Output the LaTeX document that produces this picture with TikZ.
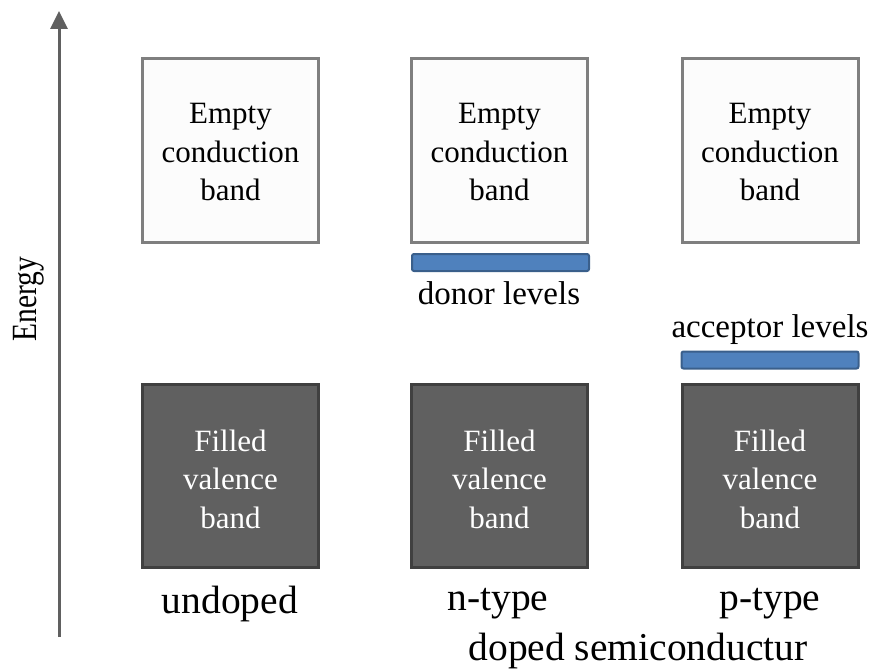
\documentclass[tikz,border=0pt]{standalone}
\usepackage{graphicx}
\usepackage{fontspec}
\setmainfont{Liberation Serif}
\usetikzlibrary{arrows.meta}
\definecolor{axisgray}{HTML}{606060}
\definecolor{cbborder}{HTML}{7F7F7F}
\definecolor{cbfill}{HTML}{FCFCFC}
\definecolor{vbfill}{HTML}{606060}
\definecolor{vbborder}{HTML}{404040}
\definecolor{lvlfill}{HTML}{4F81BD}
\definecolor{lvlborder}{HTML}{3A5F8B}
\tikzset{
  condband/.style={draw=cbborder, fill=cbfill, line width=3pt, minimum width=176pt, minimum height=184pt, inner sep=0pt},
  valband/.style={draw=vbborder, fill=vbfill, line width=3pt, minimum width=176pt, minimum height=183pt, inner sep=0pt},
  bandtext/.style={align=center, inner sep=0pt, font=\fontsize{31}{38.5}\selectfont},
  levelbar/.style={draw=lvlborder, fill=lvlfill, line width=2pt, rounded corners=2pt, minimum width=177pt, minimum height=17pt, inner sep=0pt},
  smalllbl/.style={font=\fontsize{33}{40}\selectfont, inner sep=0pt},
  biglbl/.style={font=\fontsize{39.5}{47}\selectfont, inner sep=0pt},
}
\begin{document}
\begin{tikzpicture}[x=1pt,y=-1pt]
\useasboundingbox (0,0) rectangle (870,671);
% axis
\coordinate (axbot) at (59,637);
\coordinate (axtop) at (59,11);
\draw[axisgray, line width=3pt, -{Triangle[width=17pt,length=18pt]}] (axbot) -- (axtop);
\node[font=\fontsize{29.5}{36}\selectfont, inner sep=0pt] (energy) at (28.5,299) {\scalebox{1.2}[1]{\rotatebox{90}{Energy}}};
% conduction bands
\node[condband] (cb1) at (230.5,150.5) {};
\node[condband] (cb2) at (499.5,150.5) {};
\node[condband] (cb3) at (770,150.5) {};
\node[bandtext] (cbt1) at ([yshift=-2pt]cb1.center) {Empty\\conduction\\band};
\node[bandtext] (cbt2) at ([yshift=-2pt]cb2.center) {Empty\\conduction\\band};
\node[bandtext] (cbt3) at ([yshift=-2pt]cb3.center) {Empty\\conduction\\band};
% valence bands
\node[valband] (vb1) at (230.5,476) {};
\node[valband] (vb2) at (499.5,476) {};
\node[valband] (vb3) at (770,476) {};
\node[bandtext, text=white] (vbt1) at ([yshift=-3pt]vb1.center) {Filled\\valence\\band};
\node[bandtext, text=white] (vbt2) at ([yshift=-3pt]vb2.center) {Filled\\valence\\band};
\node[bandtext, text=white] (vbt3) at ([yshift=-3pt]vb3.center) {Filled\\valence\\band};
% levels
\node[levelbar] (donor) at (500.5,262.5) {};
\node[smalllbl] (donorlbl) at (499,293) {donor levels};
\node[levelbar] (acceptor) at (770,360) {};
\node[smalllbl] (acceptorlbl) at (770,330) {acceptor levels};
% labels
\node[biglbl] (undoped) at (230,604) {undoped};
\node[biglbl] (ntype) at (498,604) {n-type};
\node[biglbl] (ptype) at (770,604) {p-type};
\node[biglbl] (doped) at (638,651) {doped semiconductur};
\end{tikzpicture}
\end{document}
